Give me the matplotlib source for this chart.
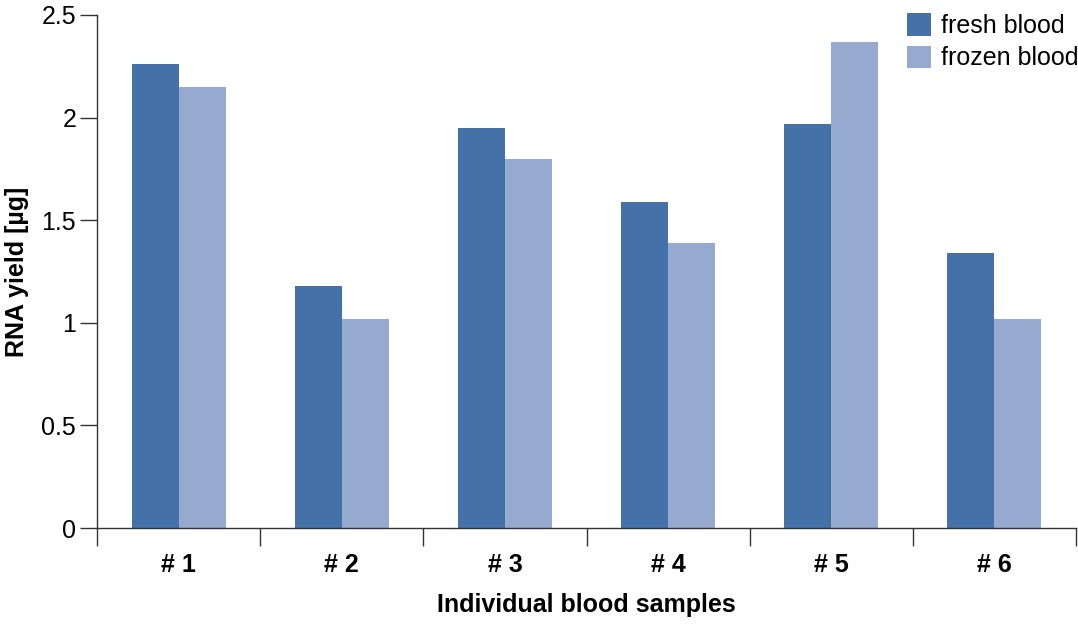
import numpy as np
import matplotlib
matplotlib.use('Agg')
import matplotlib.pyplot as plt

plt.rcParams['font.family'] = ['Liberation Sans', 'DejaVu Sans']

samples = ['# 1', '# 2', '# 3', '# 4', '# 5', '# 6']
fresh = [2.26, 1.18, 1.95, 1.59, 1.97, 1.34]
frozen = [2.15, 1.02, 1.80, 1.39, 2.37, 1.02]

fresh_color = '#4471a7'
frozen_color = '#96aad0'

fig = plt.figure(figsize=(10.78, 6.26), dpi=100)
ax = fig.add_axes([97 / 1078, 98 / 626, 979 / 1078, 513 / 626])

x = np.arange(len(samples))
w = 0.288
ax.bar(x - w / 2, fresh, w, color=fresh_color, label='fresh blood')
ax.bar(x + w / 2, frozen, w, color=frozen_color, label='frozen blood')

ax.set_xlim(-0.5, len(samples) - 0.5)
ax.set_ylim(0, 2.5)
ax.set_yticks([0, 0.5, 1, 1.5, 2, 2.5])
ax.set_yticklabels(['0', '0.5', '1', '1.5', '2', '2.5'], fontsize=18)

# ticks at category boundaries, labels centred
ax.set_xticks(np.arange(len(samples) + 1) - 0.5)
ax.set_xticklabels([])
ax.set_xticks(x, minor=True)
ax.set_xticklabels(samples, minor=True, fontsize=18, fontweight='bold')
ax.tick_params(axis='x', which='minor', length=0, pad=18)
ax.tick_params(axis='x', which='major', length=13, width=1, color='#333333')
ax.tick_params(axis='y', length=12, width=1, color='#333333', pad=3)

for s in ['top', 'right']:
    ax.spines[s].set_visible(False)
for s in ['left', 'bottom']:
    ax.spines[s].set_color('#333333')
    ax.spines[s].set_linewidth(1)

ax.set_ylabel('RNA yield [µg]', fontsize=18, fontweight='bold')
ax.set_xlabel('Individual blood samples', fontsize=18, fontweight='bold')
ax.yaxis.set_label_coords(-80 / 979, 0.5)
ax.xaxis.set_label_coords(0.5, -77 / 513)
ax.yaxis.label.set_va('center')
ax.xaxis.label.set_va('center')

ax.legend(loc='upper right', bbox_to_anchor=(1.003, 1.003), frameon=False, fontsize=18,
          handlelength=0.96, handleheight=1.0, handletextpad=0.4, labelspacing=0.3,
          borderaxespad=0, borderpad=0)

fig.savefig('out.png', dpi=100)
